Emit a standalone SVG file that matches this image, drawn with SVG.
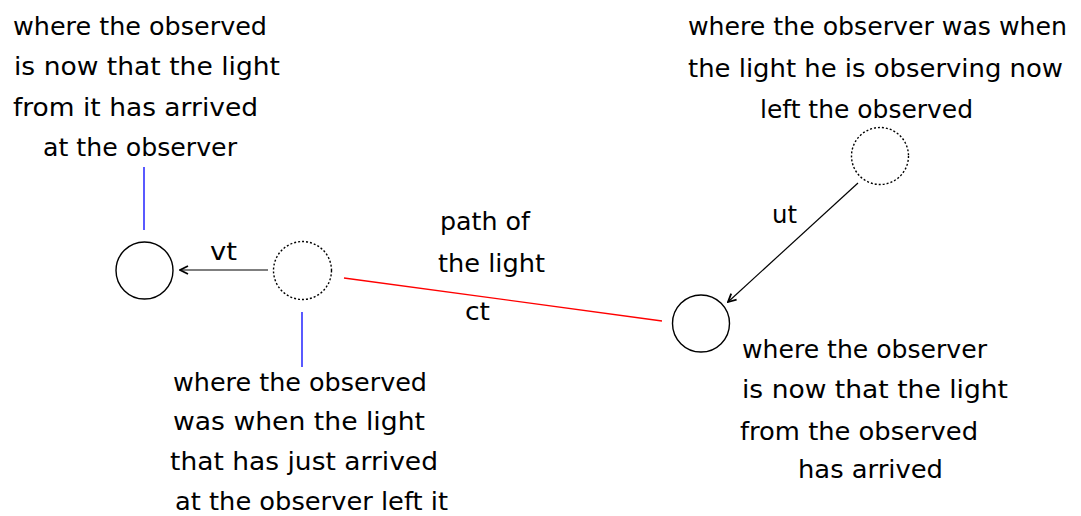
<svg xmlns="http://www.w3.org/2000/svg" width="1081" height="516" viewBox="0 0 1081 516">
<defs>
<style>
text{font-family:"DejaVu Sans","Liberation Sans",sans-serif;font-size:24.5px;fill:#000}
.solid{fill:none;stroke:#000;stroke-width:1.4}
.dot{fill:none;stroke:#000;stroke-width:1.4;stroke-dasharray:2 2}
.arrow{stroke:#000;stroke-width:1.2;fill:none;marker-end:url(#ah)}
.blue{stroke:#0000ff;stroke-width:1.3}
.red{stroke:#ff0000;stroke-width:1.3}
</style>
<marker id="ah" viewBox="0 0 10 10" refX="9" refY="5" markerWidth="10" markerHeight="10" markerUnits="userSpaceOnUse" orient="auto">
<path d="M1,1 L9,5 L1,9" fill="none" stroke="#000" stroke-width="1.8"/>
</marker>
</defs>
<g id="observed-now">
<circle class="solid" cx="144.5" cy="270.5" r="28.5"/>
</g>
<g id="observed-then">
<circle class="dot" cx="302.5" cy="270.5" r="29"/>
</g>
<g id="observer-then">
<circle class="dot" cx="880" cy="156" r="28.5"/>
</g>
<g id="observer-now">
<circle class="solid" cx="701" cy="323.5" r="28.5"/>
</g>
<g id="label-observed-now">
<text x="13" y="35" textLength="254" lengthAdjust="spacingAndGlyphs">where the observed</text>
<text x="14" y="75" textLength="266" lengthAdjust="spacingAndGlyphs">is now that the light</text>
<text x="13" y="116" textLength="245" lengthAdjust="spacingAndGlyphs">from it has arrived</text>
<text x="43" y="156" textLength="194" lengthAdjust="spacingAndGlyphs">at the observer</text>
</g>
<g id="label-observer-then">
<text x="688" y="35" textLength="379" lengthAdjust="spacingAndGlyphs">where the observer was when</text>
<text x="688" y="77" textLength="375" lengthAdjust="spacingAndGlyphs">the light he is observing now</text>
<text x="760" y="118" textLength="213" lengthAdjust="spacingAndGlyphs">left the observed</text>
</g>
<g id="label-observed-then">
<text x="173" y="391" textLength="254" lengthAdjust="spacingAndGlyphs">where the observed</text>
<text x="173" y="430" textLength="252" lengthAdjust="spacingAndGlyphs">was when the light</text>
<text x="170" y="470" textLength="268" lengthAdjust="spacingAndGlyphs">that has just arrived</text>
<text x="175" y="510" textLength="273" lengthAdjust="spacingAndGlyphs">at the observer left it</text>
</g>
<g id="label-observer-now">
<text x="742" y="358" textLength="245" lengthAdjust="spacingAndGlyphs">where the observer</text>
<text x="742" y="398" textLength="266" lengthAdjust="spacingAndGlyphs">is now that the light</text>
<text x="740" y="440" textLength="238" lengthAdjust="spacingAndGlyphs">from the observed</text>
<text x="798" y="478" textLength="145" lengthAdjust="spacingAndGlyphs">has arrived</text>
</g>
<g id="connectors">
<line class="blue" x1="144" y1="167" x2="144" y2="230"/>
<line class="blue" x1="302" y1="312" x2="302" y2="367"/>
<line class="red" x1="344" y1="278" x2="662" y2="321"/>
<line class="arrow" x1="268" y1="270" x2="180" y2="270"/>
<line class="arrow" x1="858" y1="183" x2="728" y2="302"/>
<text x="210" y="260" textLength="27" lengthAdjust="spacingAndGlyphs">vt</text>
<text x="772" y="223" textLength="25" lengthAdjust="spacingAndGlyphs">ut</text>
<text x="465" y="320" textLength="25" lengthAdjust="spacingAndGlyphs">ct</text>
<text x="440" y="230" textLength="90" lengthAdjust="spacingAndGlyphs">path of</text>
<text x="438" y="272" textLength="107" lengthAdjust="spacingAndGlyphs">the light</text>
</g>
</svg>
